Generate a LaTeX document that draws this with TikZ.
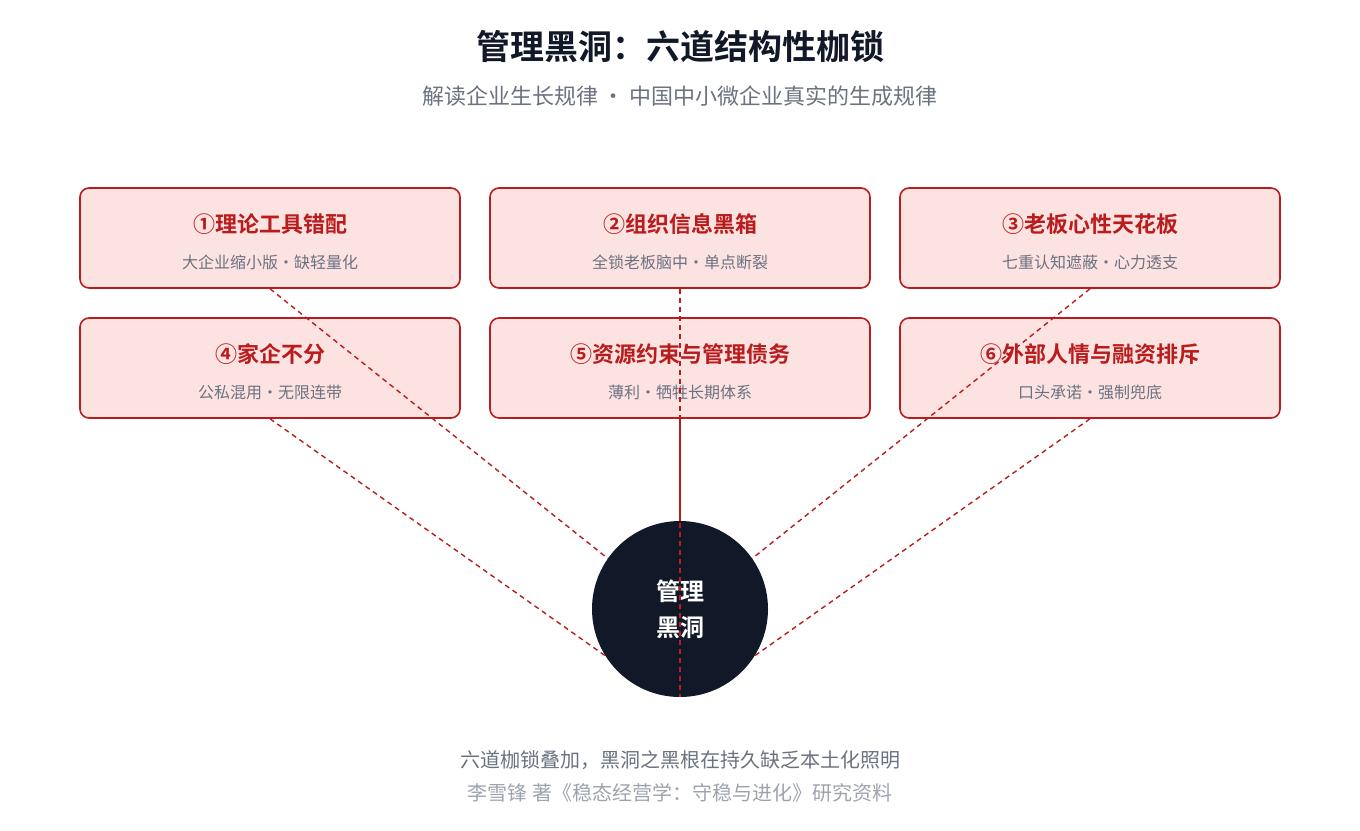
\documentclass[tikz,border=0pt]{standalone}
\usepackage{fontspec}
\setmainfont{Noto Sans CJK SC}[BoldFont={Noto Sans CJK SC Bold}]
\usetikzlibrary{positioning}
\definecolor{lockred}{HTML}{B91C1C}
\definecolor{lockfill}{HTML}{FDE2E2}
\definecolor{inkdark}{HTML}{111827}
\definecolor{inkgray}{HTML}{6B7280}
\definecolor{inklight}{HTML}{9CA3AF}
\begin{document}
\begin{tikzpicture}[x=1pt,y=-1pt,
  LockStyle/.style={draw=lockred, line width=1.6pt, fill=lockfill, rounded corners=9pt,
                    minimum width=380pt, minimum height=100pt},
  LinkStyle/.style={draw=lockred, line width=1.4pt, dash pattern=on 5pt off 4pt}]
\useasboundingbox (0,0) rectangle (1360,830);
\node[font=\bfseries\fontsize{34}{40}\selectfont, text=inkdark] (title) at (680,47) {管理黑洞：六道结构性枷锁};
\node[font=\fontsize{22}{26}\selectfont, text=inkgray] (sub) at (680,96) {解读企业生长规律 ・ 中国中小微企业真实的生成规律};
% six boxes
\foreach \name/\x/\y/\head/\body in {
  b1/270/238/①理论工具错配/大企业缩小版・缺轻量化,
  b2/680/238/②组织信息黑箱/全锁老板脑中・单点断裂,
  b3/1090/238/③老板心性天花板/七重认知遮蔽・心力透支,
  b4/270/368/④家企不分/公私混用・无限连带,
  b5/680/368/⑤资源约束与管理债务/薄利・牺牲长期体系,
  b6/1090/368/⑥外部人情与融资排斥/口头承诺・强制兜底}{
  \node[LockStyle] (\name) at (\x,\y) {};
  \node[font=\bfseries\fontsize{22}{26}\selectfont, text=lockred] at (\x,\y-14) {\head};
  \node[font=\fontsize{16}{20}\selectfont, text=inkgray] at (\x,\y+24) {\body};
}
\node[circle, fill=inkdark, minimum size=176pt, inner sep=0pt, text=white,
      font=\bfseries\fontsize{24}{36}\selectfont, align=center] (hole) at (680,609) {管理\\黑洞};
\draw[LinkStyle] (b1.south) -- (hole.145);
\draw[LinkStyle] (b2.south) -- (hole.south);
\draw[LinkStyle] (b3.south) -- (hole.35);
\draw[LinkStyle] (b4.south) -- (hole.212);
\draw[LinkStyle] (b5.south) -- (hole.north);
\draw[LinkStyle] (b6.south) -- (hole.-32);
\node[font=\fontsize{20}{24}\selectfont, text=inkgray] (foot) at (680,760) {六道枷锁叠加，黑洞之黑根在持久缺乏本土化照明};
\node[font=\fontsize{20}{24}\selectfont, text=inklight] (cite) at (680,793) {李雪锋 著《稳态经营学：守稳与进化》研究资料};
\end{tikzpicture}
\end{document}
